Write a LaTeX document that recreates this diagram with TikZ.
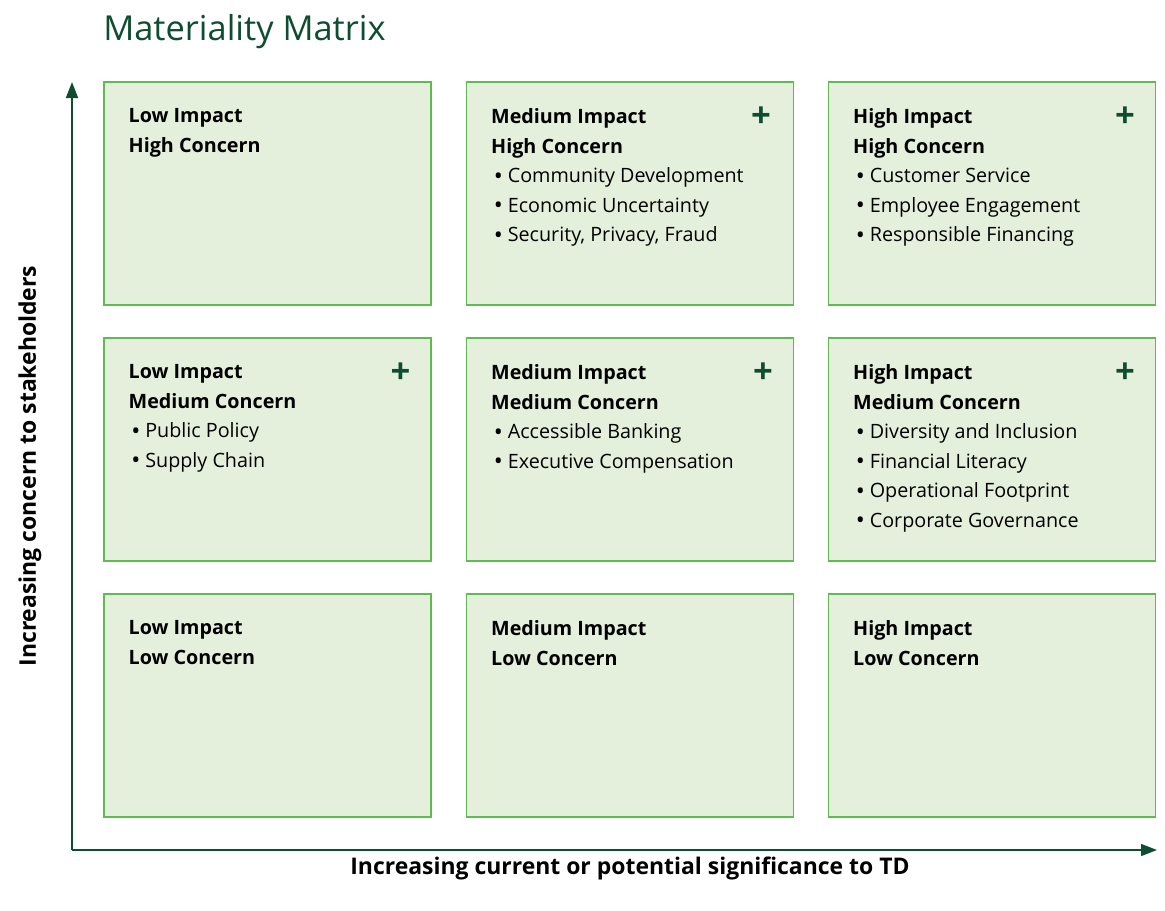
\documentclass[tikz,border=0pt]{standalone}
\usepackage{fontspec}
\setmainfont{Open Sans}
\usetikzlibrary{arrows.meta,positioning}
\definecolor{tdgreen}{HTML}{0E4D31}
\definecolor{cellfill}{HTML}{E5F0DC}
\definecolor{celledge}{HTML}{5DBB50}
\newcommand{\itembullet}{\hspace{2pt}\makebox[10.5pt][l]{\raisebox{-1.2pt}{\fontsize{18}{18}\selectfont•}}}
\begin{document}
\begin{tikzpicture}[x=0.75pt,y=-0.75pt]
\tikzset{
  cell/.style={draw=celledge,fill=cellfill,line width=0.9pt,inner sep=0pt,
    minimum width=245.25pt,minimum height=167.25pt},
  celltext/.style={anchor=north west,align=left,inner sep=0pt,
    font=\fontsize{14.8}{22.1}\selectfont},
  plussign/.style={text=tdgreen,inner sep=0pt,font=\bfseries\fontsize{26}{26}\selectfont},
  axis/.style={draw=tdgreen,line width=1.2pt,-{Triangle[length=12pt,width=9pt]}},
  axislabel/.style={font=\bfseries\fontsize{17.2}{20}\selectfont}
}
\useasboundingbox (0,0) rectangle (1165,911);
% title
\node[anchor=base west,inner sep=0pt,text=tdgreen,font=\fontsize{25.8}{30}\selectfont]
  (title) at (103,40) {Materiality Matrix};
% the nine cells
\node[cell] (lowhigh) at (267.5,193.5) {};
\node[cell] (medhigh) at (630,193.5) {};
\node[cell] (highhigh) at (992,193.5) {};
\node[cell] (lowmed) at (267.5,449.5) {};
\node[cell] (medmed) at (630,449.5) {};
\node[cell] (highmed) at (992,449.5) {};
\node[cell] (lowlow) at (267.5,705.5) {};
\node[cell] (medlow) at (630,705.5) {};
\node[cell] (highlow) at (992,705.5) {};
% cell texts
\node[celltext] (lowhightext) at ([shift={(25,27)}]lowhigh.north west)
  {\textbf{Low Impact}\\\textbf{High Concern}};
\node[celltext] (medhightext) at ([shift={(25,27)}]medhigh.north west)
  {\textbf{Medium Impact}\\\textbf{High Concern}\\\itembullet Community Development\\\itembullet Economic Uncertainty\\\itembullet Security, Privacy, Fraud};
\node[celltext] (highhightext) at ([shift={(25,27)}]highhigh.north west)
  {\textbf{High Impact}\\\textbf{High Concern}\\\itembullet Customer Service\\\itembullet Employee Engagement\\\itembullet Responsible Financing};
\node[celltext] (lowmedtext) at ([shift={(25,27)}]lowmed.north west)
  {\textbf{Low Impact}\\\textbf{Medium Concern}\\\itembullet Public Policy\\\itembullet Supply Chain};
\node[celltext] (medmedtext) at ([shift={(25,27)}]medmed.north west)
  {\textbf{Medium Impact}\\\textbf{Medium Concern}\\\itembullet Accessible Banking\\\itembullet Executive Compensation};
\node[celltext] (highmedtext) at ([shift={(25,27)}]highmed.north west)
  {\textbf{High Impact}\\\textbf{Medium Concern}\\\itembullet Diversity and Inclusion\\\itembullet Financial Literacy\\\itembullet Operational Footprint\\\itembullet Corporate Governance};
\node[celltext] (lowlowtext) at ([shift={(25,27)}]lowlow.north west)
  {\textbf{Low Impact}\\\textbf{Low Concern}};
\node[celltext] (medlowtext) at ([shift={(25,27)}]medlow.north west)
  {\textbf{Medium Impact}\\\textbf{Low Concern}};
\node[celltext] (highlowtext) at ([shift={(25,27)}]highlow.north west)
  {\textbf{High Impact}\\\textbf{Low Concern}};
% plus marks
\node[plussign] (medhighplus) at ([shift={(-33,36)}]medhigh.north east) {+};
\node[plussign] (highhighplus) at ([shift={(-31,36)}]highhigh.north east) {+};
\node[plussign] (lowmedplus) at ([shift={(-31,36)}]lowmed.north east) {+};
\node[plussign] (medmedplus) at ([shift={(-31,36)}]medmed.north east) {+};
\node[plussign] (highmedplus) at ([shift={(-31,36)}]highmed.north east) {+};
% axes
\coordinate (origin) at (72,850);
\coordinate (ytop) at (72,82);
\coordinate (xend) at (1157,850);
\draw[axis] (origin) -- (ytop);
\draw[axis] (origin) -- (xend);
\node[axislabel,rotate=90] (ylabel) at (30,466) {Increasing concern to stakeholders};
\node[axislabel] (xlabel) at (630,868) {Increasing current or potential significance to TD};
\end{tikzpicture}
\end{document}
